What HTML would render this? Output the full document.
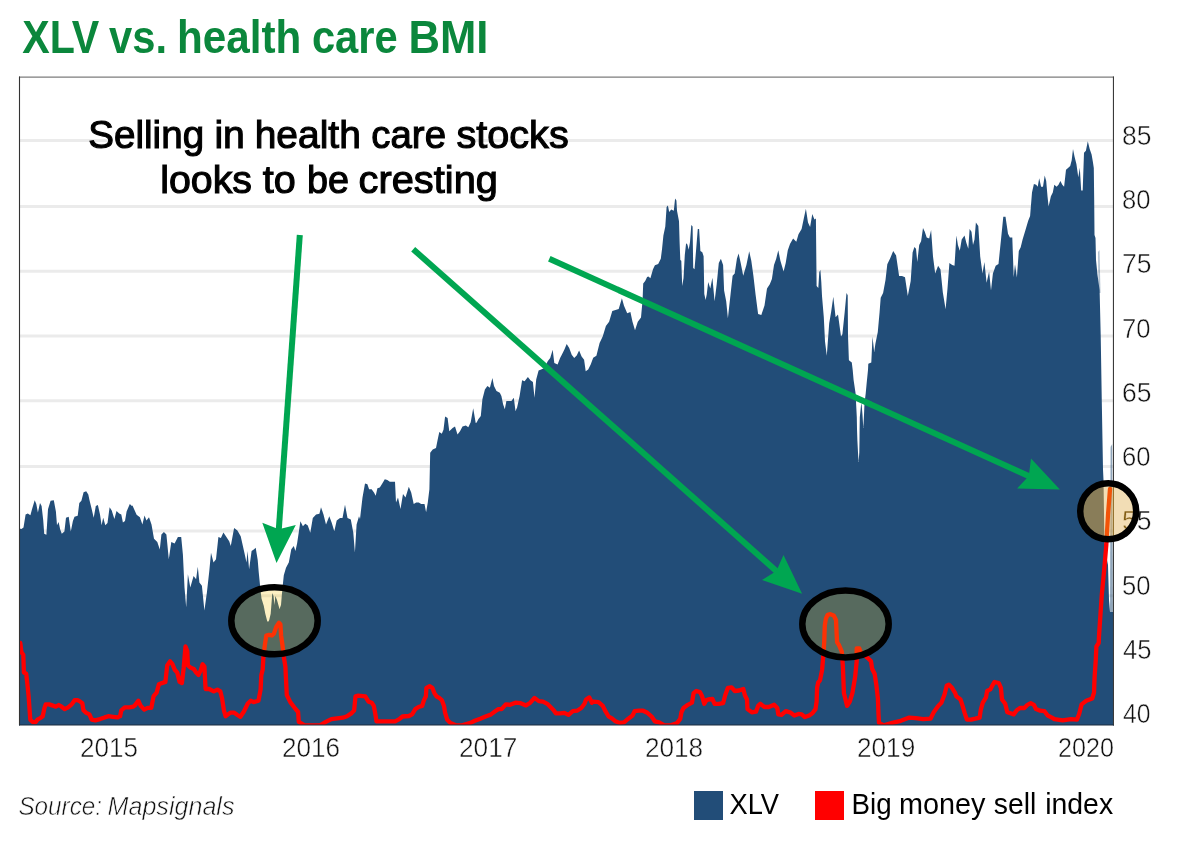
<!DOCTYPE html>
<html><head><meta charset="utf-8"><title>XLV vs. health care BMI</title><style>
html,body{margin:0;padding:0;background:#fff;width:1200px;height:847px;overflow:hidden}
svg{display:block;will-change:transform}
text{-webkit-font-smoothing:antialiased}
.ga{opacity:0.999}
text{font-family:"Liberation Sans",sans-serif}
</style></head><body>
<svg width="1200" height="847" viewBox="0 0 1200 847">
<defs>
<clipPath id="plot"><rect x="19.5" y="77" width="1093.8" height="648"/></clipPath>
<clipPath id="c3"><circle cx="1108.2" cy="511.3" r="28"/></clipPath>
<filter id="f3" filterUnits="userSpaceOnUse" x="1076" y="479" width="65" height="65" color-interpolation-filters="sRGB">
<feColorMatrix type="matrix" values="0.473 0 0 0 0.476  0 0.539 0 0 0.327  0 0 0.68 0 0.03  0 0 0 1 0"/>
</filter>
</defs>
<g class="ga" font-weight="bold" font-size="45.5" fill="#0b873c"><text x="22.30" y="52.80" textLength="77.00" lengthAdjust="spacingAndGlyphs">XLV</text><text x="109.10" y="52.80" textLength="58.00" lengthAdjust="spacingAndGlyphs">vs.</text><text x="177.00" y="52.80" textLength="124.30" lengthAdjust="spacingAndGlyphs">health</text><text x="311.90" y="52.80" textLength="85.80" lengthAdjust="spacingAndGlyphs">care</text><text x="408.50" y="52.80" textLength="79.90" lengthAdjust="spacingAndGlyphs">BMI</text></g>
<g id="base">
<g stroke="#ebebeb" stroke-width="3"><line x1="19.5" y1="140.5" x2="1113.3" y2="140.5"/><line x1="19.5" y1="206.5" x2="1113.3" y2="206.5"/><line x1="19.5" y1="271.3" x2="1113.3" y2="271.3"/><line x1="19.5" y1="336.1" x2="1113.3" y2="336.1"/><line x1="19.5" y1="400.7" x2="1113.3" y2="400.7"/><line x1="19.5" y1="466.4" x2="1113.3" y2="466.4"/><line x1="19.5" y1="530.9" x2="1113.3" y2="530.9"/><line x1="19.5" y1="595.7" x2="1113.3" y2="595.7"/><line x1="19.5" y1="660.6" x2="1113.3" y2="660.6"/></g>
<path d="M19.5 725 L19.5 528.5 L21.4 529 L23.5 527.4 L25.6 514.6 L27.8 513.6 L30.4 515.2 L32 509.3 L34.7 500.3 L36.3 504 L37.9 512.5 L40 503 L41.6 506.1 L43.2 520 L44.2 533.8 L46.4 534.8 L48 509.3 L50.6 500.8 L53.8 500.3 L55.9 511.5 L57 525.3 L58.6 522.1 L60.2 529.5 L61.8 533.8 L64.4 531.6 L66 517.8 L68.7 516.8 L70.8 531.6 L72.9 521 L74.5 516.8 L77.7 515.7 L79.3 503 L81.4 500.8 L83.6 492.3 L86.2 491.3 L88.3 494.4 L89.4 499.8 L91.5 508.3 L93.7 517.8 L95.8 506.1 L97.9 505.1 L100 514.6 L101.6 525.3 L103.2 517.8 L105.3 525.3 L107.5 523.1 L109.6 507.2 L111.7 510.4 L114.4 518.9 L116.5 510.9 L119.2 513.6 L121.3 514.6 L122.9 522.6 L125 521 L126.6 511.5 L129.8 504 L131.9 506.1 L132.5 505.6 L136.6 514.7 L139.9 517.2 L142.4 524.6 L144.5 515.5 L146.5 520.5 L149 517.2 L151.5 524.6 L154 538.7 L157.3 542 L159.8 549.4 L161.4 534.5 L163.9 532.1 L166.4 534.5 L168.8 559.3 L171.3 542 L174.6 543.6 L177.9 537 L181.2 537 L182.9 554.4 L184.5 587.4 L186.2 607.3 L187.9 574.2 L190.3 587.4 L193.6 575.9 L196.1 579.2 L197.8 566.8 L199.4 582.5 L201.9 585.8 L204.4 610.6 L206.9 592.4 L209.3 570.9 L211 552.7 L213.5 562.6 L216 559.3 L218.4 537 L220.9 537.9 L223.4 532.6 L225.9 536.2 L229.2 541.2 L230.8 546.1 L234.1 527.9 L237.4 530.4 L240.7 536.2 L244 551.1 L246.5 562.6 L247.5 551 L249.1 569.2 L251.6 551 L254.1 549.3 L255.7 547.7 L257.7 560 L258.7 572 L260 585 L260.7 592 L261.5 598.4 L263.8 606 L265.3 613.7 L267.3 621.4 L268.5 621.4 L269.2 619.9 L270.7 613.7 L272.3 593 L273.5 596 L274.5 605 L275.3 596 L277 600 L279.5 609 L281 605 L282 593 L283 583 L283.8 575.3 L286 567.7 L288.8 562.6 L291.3 549.3 L293.8 546 L295.4 551 L297.1 543.6 L298.7 532.8 L300.4 521.2 L302.9 526.2 L305.3 523.7 L307.8 525.4 L310.3 532.8 L312.8 517.9 L316.1 514.6 L319.4 513.8 L321 507.2 L323.5 514.6 L326 524.5 L329.3 516.3 L331.8 522.9 L334.3 531.2 L336.7 520.4 L340 517.9 L342.5 517.9 L345 504.7 L347.5 517.9 L350.8 519.6 L353.3 532.8 L354.9 552.6 L356.6 524.5 L359 516.3 L360 518.9 L362.5 497.4 L365 483.4 L367.4 484.2 L369.1 489.2 L371.6 489.2 L374 492.5 L375.7 495.8 L377.4 488.3 L379.8 487.5 L382.3 483.4 L384.8 479.3 L387.3 480.1 L389.8 481.7 L393.1 481.7 L395 481.7 L396 502.4 L398 497.4 L400.5 509 L403 494.1 L405.5 497.4 L408.8 486.7 L411.2 492.5 L413.7 504 L416.2 502.4 L418.7 502.4 L421.2 504 L424.5 504 L426.1 512.3 L427.8 502.4 L429.4 489.2 L430.2 452.8 L432.7 449.5 L436 447.9 L437.7 439.6 L439.3 432.1 L441.8 433.8 L443.5 429.7 L445.1 416.4 L447.6 418.1 L449.3 431.3 L452.6 428 L455 426.4 L457.5 434.6 L460 431.3 L462.5 426.4 L465.8 425.5 L468.3 427.2 L470.7 422.2 L473.2 408.2 L475.7 423 L476.7 422.5 L478.3 419.2 L480.8 415.9 L482.4 399.3 L484.9 389.4 L487.4 386.1 L489.9 387.8 L492.4 377.9 L494 386.1 L496.5 391.1 L499.8 392.7 L501.4 396 L503.1 404.3 L504.8 409.3 L506.4 401 L508.9 401 L511.4 401 L513.8 397.7 L515.5 410.9 L517.1 407.6 L519.6 396 L522.1 380.3 L524.6 381.2 L527.9 377 L530.4 380.3 L532.9 382 L534.5 397.7 L536.2 379.5 L538.6 370.4 L541.1 369.6 L544.4 367.9 L547.7 361.3 L550.2 358 L552.7 349.8 L554.3 363 L557.6 364.6 L560.1 358 L561.8 354.7 L564.3 349.8 L566.7 344 L569.2 348.1 L571.7 354.7 L574.2 358 L576.7 355.5 L579.1 350.6 L581.6 356.4 L584.1 359.7 L585.7 371.2 L588.2 369.6 L590.7 364.6 L593.2 357.8 L596.4 355.7 L599.6 342.9 L602.7 336.6 L605.9 325.9 L609.1 321.7 L612.3 311.1 L615.5 310 L618.7 308.9 L621.9 298.3 L624 305.8 L627.2 313.2 L630.4 312.1 L632.5 321.7 L635 330.2 L637.8 321.7 L641 317.4 L642.6 300 L643.2 283.5 L645.2 280.9 L647.1 277 L648.4 276.4 L650.4 278.3 L653 269.2 L654.9 265.3 L658.2 264 L660.8 258.8 L662.1 248.4 L663.4 235.5 L665.3 226.4 L666.6 206.9 L667.9 205.6 L669.2 212.1 L671.2 209.5 L673.8 210.8 L675.1 198.4 L676.4 200.4 L677 210.8 L679 221.2 L679.6 241.9 L680.3 260.1 L681.3 260.8 L682.2 286.1 L683.5 278.3 L684.8 254.9 L686.1 243.2 L687.4 244.5 L688.7 249.7 L690 241.9 L691.3 225.1 L692.6 226.4 L693.2 267.9 L694.5 269.2 L695.8 253.6 L697.8 229 L699.1 229 L700.4 251 L702.3 252.3 L703.6 256.2 L704.3 293.9 L705.6 300 L706.7 294.8 L708.2 282.1 L710.3 288.5 L712.4 277.8 L714.6 301.2 L716.7 284.2 L718.8 263 L720.9 258.7 L723.1 265.1 L724.1 290.6 L726.2 301.2 L727.9 318.2 L730.5 294.8 L732.6 275.7 L734.7 273.6 L736.9 258.7 L738.6 253.4 L740.7 263 L743.2 275.7 L746.4 265.1 L749.2 251.3 L751.3 260.8 L753.4 275.7 L755.6 294.8 L758.1 313.9 L761.3 315 L764.5 305.5 L767 288.5 L769.8 284.2 L771.9 278.9 L774 265.1 L776.2 258.7 L778.3 250.2 L780.4 260.8 L783.6 271.5 L785.7 263 L787.8 250.2 L790 243.9 L793.1 238.5 L796.3 241.7 L798.5 234.3 L801.6 229 L803.8 218.4 L805.9 208.8 L808 222.6 L810.1 226.9 L812.3 214.1 L814.4 219.4 L815.9 218.4 L816.6 286 L818.3 288 L819.3 272 L820.4 270 L821.3 282 L822 296 L823.8 317.3 L825 341.6 L826.8 355.7 L829.2 323.2 L831.2 311.4 L833.3 296.7 L835.6 317.3 L838 314.4 L841 336.5 L842.4 334.3 L844.7 311.9 L846.5 293 L847.7 295.3 L848 335.5 L848.9 360.3 L851.8 362.6 L852.7 370 L853.6 380 L855.6 393.6 L856.2 405.4 L856.8 417.2 L857 429 L857.4 440.8 L858 452.6 L858.6 462 L859.3 452.6 L859.5 440.8 L859.6 429 L859.8 417.2 L861 405.4 L861.5 403 L862.5 415 L863.3 428 L864 415 L864.5 403 L865.7 393.6 L866.8 381.8 L868 370 L868.3 363.8 L871.3 362.6 L872.5 336.7 L874.2 352 L875.4 343.8 L877.8 332 L879.6 311.9 L880.7 297.7 L883.1 293 L885.5 280 L887.3 264.2 L890.2 258.3 L893.2 251 L896.1 255.4 L899.1 276 L902 276 L905 277.2 L907.8 296.1 L910.7 280.9 L912.6 252.6 L914.4 246.9 L916 248.8 L917.3 262 L919.2 245 L921.1 241.3 L923 228 L924.8 231.8 L926.7 237.5 L929.2 238.4 L931.1 229.9 L933 256.4 L935.2 273.4 L938.1 265.8 L940.5 269.6 L942.8 292.3 L945.6 309.3 L947.5 288.5 L949.4 263 L952.2 264.9 L954.5 265.8 L956.4 235.6 L957.9 245 L959.8 250.7 L961.7 239.4 L964.5 235.6 L966.4 243.1 L968.3 248.8 L969.6 229 L971.5 231.8 L973 245 L974.5 239.4 L975.9 222.4 L978.3 226.1 L980.2 256.4 L982.5 273.4 L984.4 262 L986.6 282.8 L989.1 271.5 L991 290.4 L992.9 273.4 L995.7 265.8 L998.5 263.9 L1001 239.4 L1003.3 216.7 L1005.5 216.7 L1008 233.7 L1009.9 237.5 L1012.3 237.5 L1013.7 277.2 L1015 264.2 L1016.9 277.4 L1018.8 251 L1020.7 247.2 L1022.6 239.6 L1025.4 230.2 L1028.2 220.7 L1030.1 216 L1032 192.4 L1033.9 183.9 L1036.2 184.8 L1037.7 186.7 L1039.2 178.2 L1041.1 186.7 L1043 186.7 L1044.7 175.4 L1046.2 181 L1047.5 196.2 L1048.6 206.6 L1050.9 196.2 L1052.8 192.4 L1054.3 184.8 L1056.6 186.7 L1058.5 184.8 L1060.4 181 L1062.3 184.8 L1064.1 186.7 L1066 169.7 L1068.3 167.8 L1070.2 165.9 L1071.7 160.2 L1073 148.9 L1074.5 156.5 L1076.4 164 L1078.3 177.3 L1079.8 167.8 L1081.2 190.5 L1082.7 190.5 L1084 152.7 L1085.9 150.8 L1087.8 141.3 L1089.7 148.9 L1091.6 154.6 L1092.9 162.1 L1093.8 168 L1094.2 200 L1094.5 235 L1095.5 238 L1096 260 L1097.5 275 L1099.6 290 L1100.7 335 L1101.8 402 L1103 469.4 L1103.5 480 L1104.4 540 L1106 555 L1108 565 L1109 600 L1110 612 L1113 612 L1113.3 725 Z" fill="#224d78"/>
<path d="M1098 252 L1099.5 250 L1100.5 293 L1098.6 293 Z" fill="#224d78" opacity="0.35"/>
<path d="M1110.6 447 L1112.2 444 L1112.9 612 L1110 612 Z" fill="#224d78" opacity="0.5"/>
<polyline clip-path="url(#plot)" points="20.3,643 21.5,652.4 23.3,654.8 23.9,672.5 26.2,673.7 27.4,684.3 28.6,696.1 30.3,719.7 32.7,722.1 35.7,722.1 37.4,719.7 40.4,718 42.7,716.2 44.5,707.9 45.7,704.4 49.2,704.4 52.8,705.6 55.7,706.7 58.7,705 61.6,706.7 64.6,709.1 68.1,707.3 71.7,704.4 74.6,700.2 77.6,700.2 79.9,701.4 82.3,703.2 83.5,710.3 85.8,712.6 89.4,714.4 91.7,719.7 95.3,720.3 100,719.1 104.7,717.4 108.3,716.2 113,716.8 117.7,717.4 120.1,716.2 121.3,710.3 124.8,707.3 129.5,707.3 133.1,706.7 134.7,705.6 138.3,700.8 140.6,705.6 144.2,709.7 147.7,707.9 151.3,707.9 153.6,696.1 156.6,692.6 158.9,684.3 161.9,683.1 165.4,681.9 167.2,665.4 170.1,661.3 172.5,664.2 174.9,670.1 177.2,672.5 179.6,681.9 181.9,683.1 183.7,667.8 185.5,646.5 187.3,651.3 187.9,665.4 190.8,667.8 193.8,669 196.1,672.5 198.5,674.9 200.8,670.1 202.6,664.2 204.4,666.6 205.6,689 209.1,689 213.8,691.4 217.4,689.6 220.3,691.4 222.1,698.5 223.9,710.3 225.6,716.2 230.4,712.6 233.9,712.6 237.4,715 240.4,716.8 243.9,711.5 247.8,703.5 250.7,700.7 253.5,702.1 258.5,700.7 260.6,689.3 261.3,675.2 262.7,669.5 263.4,656.8 264.8,645.4 266.3,635.5 269.1,634.8 271.9,635.5 274,633.4 276.2,627 279,622.8 280.4,624.2 281.1,635.5 282.5,645.4 284,658.2 285.4,666.7 286.1,680.8 286.8,695 290.3,702.1 294.6,707.8 298.1,712 298.8,721.9 304.5,725.3 311.6,725.3 320.1,725.3 325.8,721.9 331.4,719.1 337.1,718.4 342.8,717.7 347,716.3 351.3,713.4 354.1,710.6 355.5,696.4 358.3,695.7 365.3,696.3 368.5,701.6 371.7,702.7 373.8,705.9 375.4,714.4 376.5,721.3 395.1,721.3 399.3,719.2 402.5,716.5 408.9,716 412.1,714.4 415.3,709.1 418.5,707 422.2,705.9 423.8,700.6 425.9,696.3 426.4,687.8 429.6,686.2 432.3,687.8 434.4,693.1 436.5,696.3 439.2,697.9 441.8,700.1 444,705.9 445,712.3 447.2,719.7 450.4,722.9 455.7,725.3 462,725.3 470.5,722.9 474.8,720.8 480.3,718.7 485.6,716.5 491,714.4 495.2,711.2 498.4,709.1 501.6,709.1 505.8,704.3 510.1,704.8 515.4,702.7 520.7,703.2 526,705.4 530.3,702.7 534.5,697.9 538.8,701.1 543,701.6 547.3,703.8 550.5,707 553.7,710.2 555.8,713.3 560,713.3 564.3,712.8 568.5,714.9 572.8,711.2 577,710.7 581.3,708 584.5,703.8 586.1,699.5 589.3,697.4 591.9,702.7 593.2,701.6 598.5,702.2 602.8,705.9 605.4,711.2 608.6,716.5 612.3,718.7 615.5,721.3 619.8,722.9 624,722.4 628.3,718.7 632.5,715.5 634.6,711.2 638.9,710.7 643.1,710.7 647.4,712.8 651.6,716.5 654.8,721.3 659.1,722.4 664.4,725.3 670.8,725.3 677.2,722.9 680.3,718.7 681.4,712.3 683.5,708 687.8,704.8 692,702.7 693.6,693.1 696.3,691 700,692.1 702.1,696.3 704.3,703.8 706.4,700.1 708.2,699.5 712.4,699 714.6,703.8 718.8,703.8 723.1,703.2 725.2,695.3 727.9,687.8 731.6,687.3 734.8,691 739,690.5 743.3,688.9 744.9,695.3 747,699.5 747.5,709.1 751.8,712.3 756,711.7 758.1,705.9 760.3,703.8 764.5,707 768.8,707 774.1,704.8 777.3,708 778.3,714.4 781.5,714.9 785.8,711.2 790,712.3 794.3,715.5 798.5,713.9 801.7,714.4 804.9,717.1 809.2,715.5 812.4,713.3 815.5,709.1 816.6,701.6 817.1,687.8 818.2,682.5 820,680.4 822.1,669.8 823.1,658 824.2,642.3 824.8,625.5 825.9,618.7 827.6,614.8 830.4,614.2 833.7,615.4 836,619.9 836.5,631.1 837.1,642.3 839.1,645.3 841.8,651.7 842.9,666.6 843.9,693.1 847.1,705.9 849.8,701.6 852.4,693.1 855.1,677.2 856.7,661.3 856.7,648.5 859.3,648.5 860.4,651.7 867.8,658.1 871,661.3 872.1,668.7 874.7,674 876.3,684.6 877.9,698.5 878.5,714.4 879,722.9 883.8,725.3 892.3,722.9 900.8,720.8 909.3,717.6 915.7,718.1 923.1,719.2 930.5,718.7 933.7,712.3 938.2,705.9 941.4,702.7 944.6,694.2 946.7,685.7 948.8,684.6 952,687.8 955.2,693.1 956.3,696.3 960.5,699.5 962.6,705.9 964.8,713.3 966.9,719.7 971.1,719.7 975.4,718.7 979.6,717.6 980.7,710.2 982.8,702.7 986,697.4 987.1,691 990.3,689.4 992.9,684.6 994.5,682 998.8,683 1000.9,687.8 1002,699.5 1005.2,703.8 1007.3,712.3 1010.5,713.3 1013.7,714.4 1016.8,710.2 1020,708 1024.3,708 1027.5,704.8 1030.7,703.2 1033.9,704.8 1036,709.1 1040.2,710.7 1044.5,711.2 1047.7,715.5 1051.9,717.6 1054.4,719.1 1062.7,720.3 1071,719.1 1076.9,719.7 1079.2,713.8 1081.6,704.4 1086.3,700.8 1092.2,698.5 1094,692.6 1094.6,677.2 1095.8,659.5 1096.4,646.5 1098.7,643 1099,636 1101.8,594.7 1104,572 1106.3,545 1108,515 1110,489" fill="none" stroke="#ff0000" stroke-width="4.3" stroke-linejoin="round" stroke-linecap="round"/>
<line x1="19" y1="77.2" x2="1114" y2="77.2" stroke="#7d7d7d" stroke-width="1.3"/><line x1="19.5" y1="76.6" x2="19.5" y2="725.5" stroke="#333" stroke-width="1.1"/><line x1="1113.45" y1="76.6" x2="1113.45" y2="725.5" stroke="#3a3a3a" stroke-width="1.1"/><line x1="19" y1="725" x2="1114" y2="725" stroke="#1c2c3e" stroke-width="1.2"/>
<g class="ga" font-size="27.6" fill="#111" stroke="#fff" stroke-width="0.5"><text x="1123.00" y="723.30" textLength="27.50" lengthAdjust="spacingAndGlyphs">40</text></g><g class="ga" font-size="27.6" fill="#111" stroke="#fff" stroke-width="0.5"><text x="1123.00" y="659.00" textLength="28.50" lengthAdjust="spacingAndGlyphs">45</text></g><g class="ga" font-size="27.6" fill="#111" stroke="#fff" stroke-width="0.5"><text x="1122.00" y="594.70" textLength="28.50" lengthAdjust="spacingAndGlyphs">50</text></g><g class="ga" font-size="27.6" fill="#111" stroke="#fff" stroke-width="0.5"><text x="1122.00" y="530.40" textLength="29.50" lengthAdjust="spacingAndGlyphs">55</text></g><g class="ga" font-size="27.6" fill="#111" stroke="#fff" stroke-width="0.5"><text x="1122.00" y="466.10" textLength="28.50" lengthAdjust="spacingAndGlyphs">60</text></g><g class="ga" font-size="27.6" fill="#111" stroke="#fff" stroke-width="0.5"><text x="1122.00" y="401.80" textLength="29.50" lengthAdjust="spacingAndGlyphs">65</text></g><g class="ga" font-size="27.6" fill="#111" stroke="#fff" stroke-width="0.5"><text x="1122.00" y="337.50" textLength="28.50" lengthAdjust="spacingAndGlyphs">70</text></g><g class="ga" font-size="27.6" fill="#111" stroke="#fff" stroke-width="0.5"><text x="1122.00" y="273.20" textLength="29.50" lengthAdjust="spacingAndGlyphs">75</text></g><g class="ga" font-size="27.6" fill="#111" stroke="#fff" stroke-width="0.5"><text x="1122.00" y="208.90" textLength="28.50" lengthAdjust="spacingAndGlyphs">80</text></g><g class="ga" font-size="27.6" fill="#111" stroke="#fff" stroke-width="0.5"><text x="1122.00" y="144.60" textLength="29.50" lengthAdjust="spacingAndGlyphs">85</text></g>
<g class="ga" font-size="27.6" fill="#111" stroke="#fff" stroke-width="0.5"><text x="80.10" y="757.20" textLength="58.00" lengthAdjust="spacingAndGlyphs">2015</text><text x="281.90" y="757.20" textLength="58.10" lengthAdjust="spacingAndGlyphs">2016</text><text x="459.00" y="757.20" textLength="58.40" lengthAdjust="spacingAndGlyphs">2017</text><text x="644.90" y="757.20" textLength="58.20" lengthAdjust="spacingAndGlyphs">2018</text><text x="857.00" y="757.20" textLength="58.25" lengthAdjust="spacingAndGlyphs">2019</text><text x="1058.00" y="757.20" textLength="55.90" lengthAdjust="spacingAndGlyphs">2020</text></g>
</g>
<g stroke="#000" stroke-width="6.5">
<ellipse cx="274.5" cy="620.8" rx="43.2" ry="33.5" fill="rgba(248,196,16,0.25)"/>
<ellipse cx="845.5" cy="624" rx="43.2" ry="33.5" fill="rgba(248,196,16,0.25)"/>
</g>
<g clip-path="url(#c3)"><g filter="url(#f3)"><rect x="1076" y="479" width="65" height="65" fill="#fff"/><use href="#base"/></g></g>
<circle cx="1108.2" cy="511.3" r="28" fill="none" stroke="#000" stroke-width="6.5"/>
<line x1="299.8" y1="235" x2="278.53" y2="533.29" stroke="#00a651" stroke-width="6"/><polygon points="276.5,562.9 262.3,522.7 278.8,529.3 295.8,525" fill="#00a651"/><line x1="413.2" y1="249.3" x2="779.4" y2="573.65" stroke="#00a651" stroke-width="6"/><polygon points="802.1,593.7 783.5,554.9 776.4,571 762,580.1" fill="#00a651"/><line x1="549.3" y1="258.7" x2="1032.47" y2="477.69" stroke="#00a651" stroke-width="6"/><polygon points="1059.9,489.6 1031,458.4 1028.8,476.1 1017.1,488.5" fill="#00a651"/>
<rect x="109" y="135" width="354" height="10" fill="#fff"/>
<g class="ga" font-size="39.5" fill="#000" stroke="#000" stroke-width="1.1"><text x="88.25" y="147.50" textLength="115.85" lengthAdjust="spacingAndGlyphs">Selling</text><text x="214.40" y="147.50" textLength="30.50" lengthAdjust="spacingAndGlyphs">in</text><text x="254.70" y="147.50" textLength="106.10" lengthAdjust="spacingAndGlyphs">health</text><text x="371.30" y="147.50" textLength="74.70" lengthAdjust="spacingAndGlyphs">care</text><text x="456.50" y="147.50" textLength="112.20" lengthAdjust="spacingAndGlyphs">stocks</text></g>
<g class="ga" font-size="39.5" fill="#000" stroke="#000" stroke-width="1.1"><text x="160.25" y="192.50" textLength="91.75" lengthAdjust="spacingAndGlyphs">looks</text><text x="262.75" y="192.50" textLength="33.00" lengthAdjust="spacingAndGlyphs">to</text><text x="306.90" y="192.50" textLength="42.00" lengthAdjust="spacingAndGlyphs">be</text><text x="358.60" y="192.50" textLength="139.30" lengthAdjust="spacingAndGlyphs">cresting</text></g>
<g class="ga" font-size="25.5" font-style="italic" fill="#111" stroke="#fff" stroke-width="0.6"><text x="18.40" y="814.80" textLength="83.60" lengthAdjust="spacingAndGlyphs">Source:</text><text x="107.50" y="814.80" textLength="127.00" lengthAdjust="spacingAndGlyphs">Mapsignals</text></g>
<rect x="694" y="791" width="29" height="29" fill="#224d78"/>
<rect x="815" y="791" width="29" height="29" fill="#ff0000"/>
<g class="ga" font-size="29.6" fill="#000"><text x="729.50" y="813.80" textLength="49.50" lengthAdjust="spacingAndGlyphs">XLV</text></g>
<g class="ga" font-size="29.6" fill="#000"><text x="851.60" y="813.80" textLength="40.10" lengthAdjust="spacingAndGlyphs">Big</text><text x="899.00" y="813.80" textLength="86.50" lengthAdjust="spacingAndGlyphs">money</text><text x="993.75" y="813.80" textLength="42.55" lengthAdjust="spacingAndGlyphs">sell</text><text x="1045.20" y="813.80" textLength="67.90" lengthAdjust="spacingAndGlyphs">index</text></g>
</svg>
</body></html>
